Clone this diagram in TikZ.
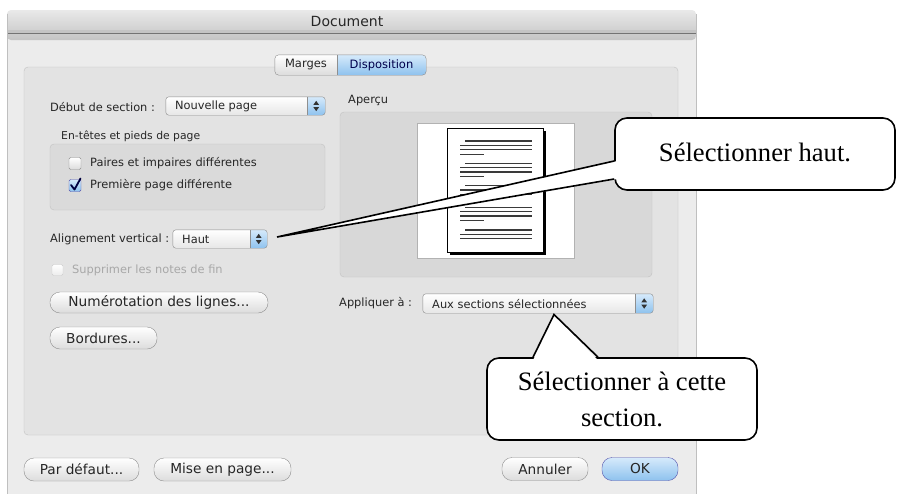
\documentclass[tikz,border=0pt]{standalone}
\usepackage{fontspec}
\newfontfamily\ui{DejaVu Sans}
\newfontfamily\tnr{Liberation Serif}
\usetikzlibrary{calc}
\definecolor{winbg}{HTML}{ECECEC}
\definecolor{grpbg}{HTML}{E3E3E3}
\definecolor{grpline}{HTML}{C2C2C2}
\definecolor{inbg}{HTML}{DADADA}
\definecolor{prevbg}{HTML}{D8D8D8}
\definecolor{popline}{HTML}{8F8F8F}
\definecolor{btnbot}{HTML}{DCDCDC}
\definecolor{bluetop}{HTML}{D6EAFB}
\definecolor{bluebot}{HTML}{8EC2EE}
\definecolor{dimtext}{HTML}{A8A8A8}
\definecolor{titletop}{HTML}{E9E9E9}
\definecolor{titlebot}{HTML}{C4C4C4}
\definecolor{pageline}{HTML}{3A3A3A}
\tikzset{
  lbl/.style={anchor=west, inner sep=0pt, text=black!85, font=\ui\fontsize{11.4}{13}\selectfont},
  btn/.style={draw=popline, rounded corners=10pt, top color=white, bottom color=btnbot, inner sep=0pt, text=black!85, font=\ui\fontsize{13.7}{16}\selectfont},
  okbtn/.style={btn, top color=bluetop, bottom color=bluebot, draw=blue!35!gray},
  popbox/.style={draw=none, top color=white, bottom color=btnbot!70!white, rounded corners=3pt, inner sep=0pt},
  chk/.style={draw=popline, rounded corners=1.5pt, top color=white, bottom color=btnbot, minimum width=12pt, minimum height=12pt, inner sep=0pt},
  callout/.style={draw=black, line width=1.6pt, fill=white, rounded corners=12pt, inner sep=0pt, align=center, font=\tnr\fontsize{26.6}{36}\selectfont},
  pointerfill/.style={fill=white},
  pointerline/.style={draw=black, line width=1.6pt, line join=miter},
  pline/.style={draw=pageline, line width=1.3pt},
}
\newcommand\uipopup[2]{%
  \begin{scope}
    \clip ($(#1.north east)+(-#2,-1)$) rectangle ($(#1.south east)+(1,1)$);
    \path[top color=bluetop,bottom color=bluebot,rounded corners=3pt] (#1.north west) rectangle (#1.south east);
  \end{scope}
  \draw[draw=popline, rounded corners=3pt] (#1.north west) rectangle (#1.south east);
  \draw[draw=popline] ($(#1.north east)+(-#2,0)$) -- ($(#1.south east)+(-#2,0)$);
  \fill[black!80] ($(#1.east)+(-#2/2,0)$) ++(-2.8,-1.2) -- ++(5.6,0) -- ++(-2.8,-4) -- cycle;
  \fill[black!80] ($(#1.east)+(-#2/2,0)$) ++(-2.8,1.2) -- ++(5.6,0) -- ++(-2.8,4) -- cycle;
}
\newcommand\pagegroup[2]{%
  \draw[pline] (465,#1) -- (532,#1);
  \draw[pline] (460,#1+4.3) -- (532,#1+4.3);
  \draw[pline] (460,#1+8.7) -- (532,#1+8.7);
  \ifnum#2=1 \draw[pline] (460,#1+13.3) -- (484,#1+13.3);\fi
}
\begin{document}
\begin{tikzpicture}[x=1pt,y=-1pt]
\useasboundingbox (0,0) rectangle (902,493);
\fill[white] (0,0) rectangle (902,493);
% window
\fill[winbg] (7,33) rectangle (696,495);
\path[top color=titletop,bottom color=titlebot,rounded corners=4pt] (7,10) rectangle (696,40);
\fill[titlebot] (7,30) rectangle (696,33);
\draw[black!55] (7,33) -- (696,33);
\draw[black!25] (7,14) -- (7,495) (696,14) -- (696,495);
\node[font=\ui\fontsize{14}{16}\selectfont, text=black!85, inner sep=0pt] (title) at (347,21.5) {Document};
% main group box
\draw[draw=grpline, fill=grpbg, rounded corners=4pt] (24,67) rectangle (678,435);
% tabs
\node[minimum width=151pt, minimum height=20pt, inner sep=0pt] (tabs) at (350.5,65) {};
\path[top color=white,bottom color=btnbot,rounded corners=4pt] (tabs.north west) rectangle (tabs.south east);
\begin{scope}
  \clip (337,50) rectangle (430,80);
  \path[top color=bluetop,bottom color=bluebot,rounded corners=4pt] (tabs.north west) rectangle (tabs.south east);
\end{scope}
\draw[draw=popline, rounded corners=4pt] (tabs.north west) rectangle (tabs.south east);
\draw[draw=popline] (337,55) -- (337,75);
\node[font=\ui\fontsize{11.5}{13}\selectfont, text=black!85, inner sep=0pt] (tabm) at (306,65) {Marges};
\node[font=\ui\fontsize{11.5}{13}\selectfont, text=blue!30!black, inner sep=0pt] (tabd) at (381.5,65) {Disposition};
% début de section
\node[lbl] (ldeb) at (50,107) {Début de section :};
\node[popbox, minimum width=159pt, minimum height=18pt] (pnp) at (245.5,106) {};
\uipopup{pnp}{18}
\node[lbl] (tnp) at (175,106.5) {Nouvelle page};
% en-têtes
\node[lbl, font=\ui\fontsize{10.8}{13}\selectfont] (lent) at (61,136) {En-têtes et pieds de page};
\draw[draw=grpline, fill=inbg, rounded corners=4pt] (50,144) rectangle (325,210);
\node[chk] (cb1) at (75,163.5) {};
\node[lbl] (lcb1) at (90,163.5) {Paires et impaires différentes};
\node[chk, top color=bluetop, bottom color=bluebot, draw=blue!35!gray] (cb2) at (75,185.5) {};
\draw[line width=1.8pt, draw=blue!25!black, line cap=round, line join=round] (71,185) -- (74.5,189.5) -- (80.5,178.5);
\node[lbl] (lcb2) at (90,185.5) {Première page différente};
% alignement vertical
\node[lbl] (lalign) at (50,239) {Alignement vertical :};
\node[popbox, minimum width=94pt, minimum height=18pt] (phaut) at (220,239) {};
\uipopup{phaut}{17}
\node[lbl] (thaut) at (182,239.5) {Haut};
% supprimer
\node[chk, draw=black!20, top color=white, bottom color=winbg, minimum width=11pt, minimum height=11pt] (cb3) at (57.5,270) {};
\node[lbl, text=dimtext] (lsup) at (72,270) {Supprimer les notes de fin};
% buttons left
\node[btn, minimum width=218pt, minimum height=21pt] (bnum) at (159,302.5) {Numérotation des lignes...};
\node[btn, minimum width=107pt, minimum height=22pt] (bbord) at (103.5,338) {Bordures...};
% aperçu
\node[lbl] (lap) at (348,101) {Aperçu};
\draw[draw=grpline, fill=prevbg, rounded corners=4pt] (340,112) rectangle (652,277);
\draw[draw=black!30, fill=white] (417,123) rectangle (574,258);
\fill[black] (450,131) rectangle (546,254.5);
\draw[draw=black, fill=white, line width=0.8pt] (447,128) rectangle (543,252);
\pagegroup{141}{1}
\pagegroup{163.3}{1}
\pagegroup{185.7}{1}
\pagegroup{207.3}{1}
\pagegroup{230}{0}
% appliquer
\node[lbl] (lapp) at (339,303.5) {Appliquer à :};
\node[popbox, minimum width=230pt, minimum height=19pt] (paux) at (538,303.5) {};
\uipopup{paux}{18}
\node[lbl] (taux) at (432,304) {Aux sections sélectionnées};
% bottom buttons
\node[btn, minimum width=115pt, minimum height=23pt] (bdef) at (81.5,469.5) {Par défaut...};
\node[btn, minimum width=137pt, minimum height=23pt] (bmise) at (222.5,469.5) {Mise en page...};
\node[btn, minimum width=86pt, minimum height=23pt] (bann) at (545,469) {Annuler};
\node[okbtn, minimum width=76pt, minimum height=23pt] (bok) at (640,469) {OK};
% callout 1
\coordinate (tip1) at (277,237);
\node[callout, minimum width=280pt, minimum height=72pt] (c1) at (755,154) {\raisebox{4pt}{Sélectionner haut.}};
\fill[pointerfill] (tip1) -- ($(c1.west)+(3,7)$) -- ($(c1.west)+(3,25)$) -- cycle;
\draw[pointerline] ($(c1.west)+(0,7)$) -- (tip1) -- ($(c1.west)+(0,25)$);
% callout 2
\coordinate (tip2) at (554,314.5);
\node[callout, minimum width=270pt, minimum height=82pt] (c2) at (622,399) {Sélectionner à cette\\section.};
\fill[pointerfill] (tip2) -- ($(c2.north)+(-89,3)$) -- ($(c2.north)+(-24,3)$) -- cycle;
\draw[pointerline] ($(c2.north)+(-89,0)$) -- (tip2) -- ($(c2.north)+(-24,0)$);
\end{tikzpicture}
\end{document}
